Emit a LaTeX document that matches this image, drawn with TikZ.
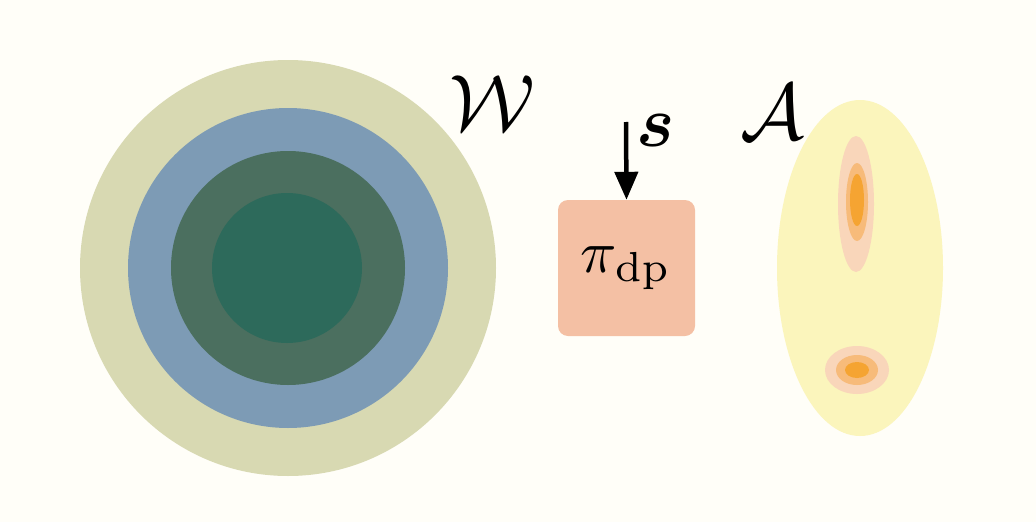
\documentclass[tikz,border=0pt]{standalone}
\usepackage{amsmath,bm}
\usetikzlibrary{arrows.meta}
\definecolor{bgc}{HTML}{FFFEF8}
\definecolor{ringA}{HTML}{D8D9B2}
\definecolor{ringB}{HTML}{7D9BB5}
\definecolor{ringC}{HTML}{4B6F5F}
\definecolor{ringD}{HTML}{2D6A5B}
\definecolor{boxc}{HTML}{F4C0A4}
\definecolor{yelc}{HTML}{FBF5BC}
\definecolor{blobA}{HTML}{F9D6BA}
\definecolor{blobB}{HTML}{F7BB7A}
\definecolor{blobC}{HTML}{F5A432}
\begin{document}
\begin{tikzpicture}[x=1pt,y=-1pt,
  lbl/.style={inner sep=0pt,scale=8},
  policy/.style={fill=boxc,rounded corners=10pt,minimum width=137pt,minimum height=136pt,inner sep=0pt}]
\fill[bgc] (0,0) rectangle (1036,522);
\useasboundingbox (0,0) rectangle (1036,522);
% W distribution
\fill[ringA] (288,268) circle (208);
\fill[ringB] (288,268) circle (160);
\fill[ringC] (288,268) circle (117);
\fill[ringD] (287,268) circle (75);
% A distribution
\fill[yelc] (860,268) ellipse [x radius=83, y radius=168];
\fill[blobA] (856,204) ellipse [x radius=18, y radius=68];
\fill[blobB] (857,202) ellipse [x radius=11, y radius=39];
\fill[blobC] (857,200) ellipse [x radius=7, y radius=26];
\fill[blobA] (857,370) ellipse [x radius=32, y radius=24];
\fill[blobB] (857,370) ellipse [x radius=21, y radius=15];
\fill[blobC] (857,370) ellipse [x radius=12, y radius=8];
% policy box
\node[policy] (pi) at (626.5,268) {};
\node[inner sep=0pt,scale=6] (pitext) at (626,268) {$\pi_{\mathrm{dp}}$};
\coordinate (sin) at (626,122);
\draw[line width=4.5pt,-{Triangle[width=23pt,length=28pt]}] (sin) -- (pi.north);
\node[inner sep=0pt,scale=7.2] (s) at (656,130) {$\bm{s}$};
\node[lbl] (W) at (492,103) {$\mathcal{W}$};
\node[lbl] (A) at (772,112) {$\mathcal{A}$};
\end{tikzpicture}
\end{document}
